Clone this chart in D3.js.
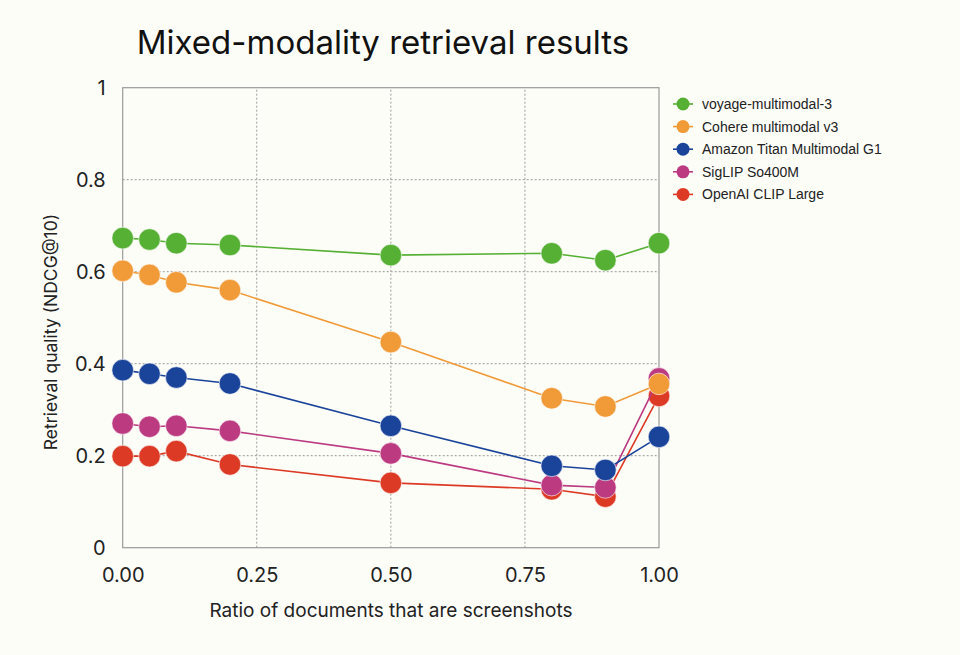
<!DOCTYPE html>
<html><head><meta charset="utf-8">
<script src="https://cdn.jsdelivr.net/npm/d3@7"></script>
<style>
body{margin:0;background:#fdfdf8;}
svg{display:block;}
</style></head>
<body>
<script>
const ratios = [0, 0.05, 0.1, 0.2, 0.5, 0.8, 0.9, 1.0];
const seriesNames = ["voyage-multimodal-3","Cohere multimodal v3","Amazon Titan Multimodal G1","SigLIP So400M","OpenAI CLIP Large"];
const voyage = [0.673,0.670,0.662,0.658,0.636,0.640,0.625,0.662];
const cohere = [0.602,0.593,0.577,0.560,0.447,0.325,0.307,0.356];
const titan  = [0.386,0.378,0.370,0.357,0.265,0.178,0.169,0.241];
const siglip = [0.270,0.263,0.265,0.254,0.205,0.136,0.131,0.368];
const clip   = [0.199,0.199,0.210,0.181,0.141,0.127,0.111,0.330];
const colors = ["#55b033","#f19a38","#1a449a","#bb3a80","#dc3a24"];
const xTicks = [0,0.25,0.5,0.75,1.0];
const yTicks = [0,0.2,0.4,0.6,0.8,1];
const allValues = [voyage, cohere, titan, siglip, clip];

const W=960,H=655;
const svg=d3.select("body").append("svg").attr("width",W).attr("height",H);
svg.append("rect").attr("width",W).attr("height",H).attr("fill","#fdfdf8");

const x=d3.scaleLinear().domain([0,1]).range([122.7,659]);
const y=d3.scaleLinear().domain([0,1]).range([547.7,87.7]);

// grid
const g=svg.append("g");
g.selectAll(".vg").data(xTicks.slice(1,-1)).enter().append("line")
 .attr("x1",d=>x(d)).attr("x2",d=>x(d)).attr("y1",y(0)).attr("y2",y(1))
 .attr("stroke","#9a9a9a").attr("stroke-width",1).attr("stroke-dasharray","2,2");
g.selectAll(".hg").data(yTicks.slice(1,-1)).enter().append("line")
 .attr("y1",d=>y(d)).attr("y2",d=>y(d)).attr("x1",x(0)).attr("x2",x(1))
 .attr("stroke","#9a9a9a").attr("stroke-width",1).attr("stroke-dasharray","2,2");
// frame
svg.append("rect").attr("x",x(0)).attr("y",y(1)).attr("width",x(1)-x(0)).attr("height",y(0)-y(1))
 .attr("fill","none").attr("stroke","#9a9a9a").attr("stroke-width",1.2);

// axes
const xAxis=d3.axisBottom(x).tickValues(xTicks).tickFormat(d3.format(".2f")).tickSize(0).tickPadding(20);
const xa=svg.append("g").attr("transform",`translate(0,${y(0)})`).call(xAxis);
xa.select(".domain").remove();
xa.selectAll("text").attr("font-family","Inter, sans-serif").attr("font-size",20).attr("fill","#222");

const yAxis=d3.axisLeft(y).tickValues(yTicks).tickFormat(d=>d===0?"0":d===1?"1":d3.format(".1f")(d)).tickSize(0).tickPadding(17);
const ya=svg.append("g").attr("transform",`translate(${x(0)},0)`).call(yAxis);
ya.select(".domain").remove();
ya.selectAll("text").attr("font-family","Inter, sans-serif").attr("font-size",20).attr("fill","#222");

// titles
svg.append("text").attr("x",383).attr("y",54).attr("text-anchor","middle")
 .attr("font-family","Inter, sans-serif").attr("font-size",33).attr("fill","#111")
 .text("Mixed-modality retrieval results");
svg.append("text").attr("x",391).attr("y",617).attr("text-anchor","middle")
 .attr("font-family","Inter, sans-serif").attr("font-size",19).attr("fill","#222")
 .text("Ratio of documents that are screenshots");
svg.append("text").attr("transform",`translate(57,332) rotate(-90)`).attr("text-anchor","middle")
 .attr("font-family","Inter, sans-serif").attr("font-size",17.5).attr("fill","#222")
 .text("Retrieval quality (NDCG@10)");

// series (draw in reverse so voyage on top)
const line=d3.line().x(d=>x(d[0])).y(d=>y(d[1]));
for(let i=allValues.length-1;i>=0;i--){
  const pts=ratios.map((r,j)=>[r,allValues[i][j]]);
  const sg=svg.append("g");
  sg.append("path").datum(pts).attr("d",line).attr("fill","none").attr("stroke",colors[i]).attr("stroke-width",1.6);
  sg.selectAll("circle").data(pts).enter().append("circle")
    .attr("cx",d=>x(d[0])).attr("cy",d=>y(d[1])).attr("r",10.8)
    .attr("fill",colors[i]).attr("stroke","rgba(255,255,255,0.6)").attr("stroke-width",1);
}

// legend
const lg=svg.append("g").attr("transform","translate(683,104)");
seriesNames.forEach((n,i)=>{
  const row=lg.append("g").attr("transform",`translate(0,${i*22.6})`);
  row.append("line").attr("x1",-10).attr("x2",10).attr("stroke",colors[i]).attr("stroke-width",1.6);
  row.append("circle").attr("r",6.5).attr("fill",colors[i]);
  row.append("text").attr("x",19).attr("dy","0.35em").attr("font-family","Liberation Sans, Arial, sans-serif")
    .attr("font-size",14).attr("fill","#222").text(n);
});
</script>
</body></html>
